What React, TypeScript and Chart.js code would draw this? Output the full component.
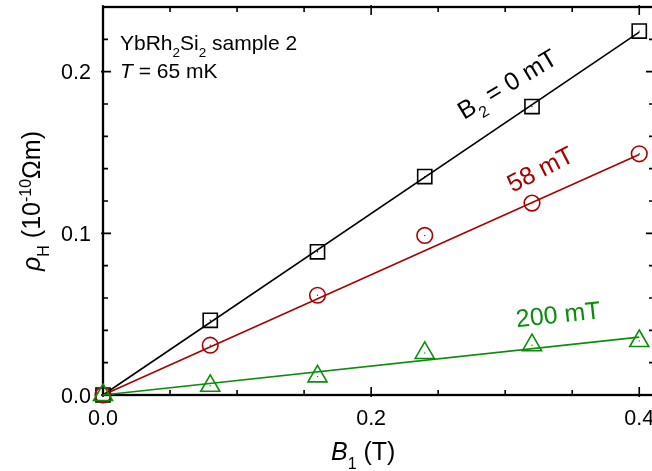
import React, { useEffect, useRef } from 'react';
import { Chart, registerables } from 'chart.js';

Chart.register(...registerables);

// ---------------- data ----------------
const B1 = [0, 0.08, 0.16, 0.24, 0.32, 0.4];
const rhoB0 = [0, 0.0462, 0.0886, 0.1351, 0.1784, 0.2251];
const rhoB58 = [0, 0.0308, 0.0617, 0.0987, 0.1187, 0.1492];
const rhoB200 = [0, 0.0057, 0.0115, 0.026, 0.0308, 0.0334];

const fitB1 = [0, 0.4];
const fitB0 = [0, 0.2245];
const fitB58 = [0, 0.1488];
const fitB200 = [0, 0.0358];

const xTickValues = [0, 0.05, 0.1, 0.15, 0.2, 0.25, 0.3, 0.35, 0.4];
const xMajorValues = [0, 0.2, 0.4];
const xTickLabels = ['0.0', '0.2', '0.4'];
const yTickValues = [0, 0.02, 0.04, 0.06, 0.08, 0.1, 0.12, 0.14, 0.16, 0.18, 0.2, 0.22];
const yMajorValues = [0, 0.1, 0.2];
const yTickLabels = ['0.0', '0.1', '0.2'];

const X_MIN = 0;
const X_MAX = 0.411;
const Y_MIN = 0;
const Y_MAX = 0.24;

// ---------------- styles ----------------
const FONT = "'Liberation Sans', Arial, Helvetica, sans-serif";
const BLACK = '#000000';
const RED = '#a80000';
const GREEN = '#0c8c0c';

type Seg = { t: string; it?: boolean; sub?: boolean; sup?: boolean };

function drawRich(
  ctx: CanvasRenderingContext2D,
  segs: Seg[],
  x: number,
  y: number,
  size: number,
  color: string,
  opts: { angle?: number; align?: 'left' | 'center' | 'right'; vcenter?: boolean } = {}
) {
  const angle = opts.angle || 0;
  const align = opts.align || 'left';
  ctx.save();
  ctx.translate(x, y);
  ctx.rotate((angle * Math.PI) / 180);
  ctx.fillStyle = color;
  ctx.textBaseline = 'alphabetic';
  ctx.textAlign = 'left';
  const fontFor = (s: Seg) =>
    `${s.it ? 'italic ' : ''}${s.sub || s.sup ? size * 0.64 : size}px ${FONT}`;
  let total = 0;
  const widths = segs.map((s) => {
    ctx.font = fontFor(s);
    const w = ctx.measureText(s.t).width;
    total += w;
    return w;
  });
  let cx = align === 'left' ? 0 : align === 'center' ? -total / 2 : -total;
  const base = opts.vcenter ? size * 0.716 * 0.5 : 0;
  segs.forEach((s, i) => {
    ctx.font = fontFor(s);
    const dy = s.sub ? size * 0.34 : s.sup ? -size * 0.36 : 0;
    ctx.fillText(s.t, cx, base + dy);
    cx += widths[i];
  });
  ctx.restore();
}

const near = (v: number, arr: number[]) => arr.findIndex((m) => Math.abs(m - v) < 1e-9);

const framePlugin = {
  id: 'originFrame',
  beforeDatasetsDraw(chart: any) {
    const { ctx, chartArea: a, scales } = chart;
    const xs = scales.x;
    const ys = scales.y;
    ctx.save();
    ctx.strokeStyle = BLACK;
    ctx.lineWidth = 2.3;
    ctx.strokeRect(a.left, a.top, a.right - a.left, a.bottom - a.top);
    ctx.lineWidth = 1.6;
    ctx.beginPath();
    xTickValues.forEach((v) => {
      const px = xs.getPixelForValue(v);
      const major = near(v, xMajorValues) >= 0;
      const inL = major ? 8 : 5;
      const outL = major ? 2 : 0;
      ctx.moveTo(px, a.bottom + outL);
      ctx.lineTo(px, a.bottom - inL);
      ctx.moveTo(px, a.top - outL);
      ctx.lineTo(px, a.top + inL);
    });
    yTickValues.forEach((v) => {
      const py = ys.getPixelForValue(v);
      const major = near(v, yMajorValues) >= 0;
      const inL = major ? 8 : 5;
      const outL = major ? 2 : 0;
      ctx.moveTo(a.left - outL, py);
      ctx.lineTo(a.left + inL, py);
      ctx.moveTo(a.right + outL, py);
      ctx.lineTo(a.right - inL, py);
    });
    ctx.stroke();

    // tick labels
    ctx.fillStyle = BLACK;
    ctx.font = `21.5px ${FONT}`;
    ctx.textBaseline = 'alphabetic';
    ctx.textAlign = 'center';
    xMajorValues.forEach((v, i) => {
      ctx.fillText(xTickLabels[i], xs.getPixelForValue(v), a.bottom + 30);
    });
    ctx.textAlign = 'right';
    yMajorValues.forEach((v, i) => {
      ctx.fillText(yTickLabels[i], a.left - 12, ys.getPixelForValue(v) + 7.7);
    });
    ctx.restore();
  },
  afterDraw(chart: any) {
    const { ctx, chartArea: a, scales } = chart;
    const xs = scales.x;
    const ys = scales.y;

    // axis titles
    drawRich(
      ctx,
      [{ t: 'B', it: true }, { t: '1', sub: true }, { t: ' (T)' }],
      331,
      a.bottom + 65,
      25,
      BLACK
    );
    drawRich(
      ctx,
      [
        { t: 'ρ', it: true },
        { t: 'H', sub: true },
        { t: ' (10' },
        { t: '-10', sup: true },
        { t: 'Ωm)' },
      ],
      40,
      (a.top + a.bottom) / 2,
      25,
      BLACK,
      { angle: -90, align: 'center' }
    );

    // inner description
    drawRich(
      ctx,
      [{ t: 'YbRh' }, { t: '2', sub: true }, { t: 'Si' }, { t: '2', sub: true }, { t: ' sample 2' }],
      a.left + 17,
      a.top + 42.5,
      21,
      BLACK
    );
    drawRich(
      ctx,
      [{ t: 'T', it: true }, { t: ' = 65 mK' }],
      a.left + 17,
      a.top + 70.7,
      21,
      BLACK
    );

    // curve labels (anchored in data coordinates)
    drawRich(
      ctx,
      [{ t: 'B' }, { t: '2', sub: true }, { t: ' = 0 mT' }],
      xs.getPixelForValue(0.3013),
      ys.getPixelForValue(0.1926),
      25,
      BLACK,
      { angle: -31, align: 'center', vcenter: true }
    );
    drawRich(
      ctx,
      [{ t: '58 mT' }],
      xs.getPixelForValue(0.326),
      ys.getPixelForValue(0.14),
      25,
      RED,
      { angle: -27, align: 'center', vcenter: true }
    );
    drawRich(
      ctx,
      [{ t: '200 mT' }],
      xs.getPixelForValue(0.3394),
      ys.getPixelForValue(0.0502),
      25,
      GREEN,
      { angle: -6, align: 'center', vcenter: true }
    );
  },
};

const pts = (xs: number[], ys: number[]) => xs.map((x, i) => ({ x, y: ys[i] }));

export default function App() {
  const ref = useRef<HTMLCanvasElement>(null);

  useEffect(() => {
    const canvas = ref.current;
    if (!canvas) return;
    const markerBase = {
      showLine: false,
      backgroundColor: 'rgba(0,0,0,0)',
      pointBackgroundColor: 'rgba(0,0,0,0)',
      pointBorderWidth: 1.6,
      clip: false as any,
    };
    const dotBase = {
      showLine: false,
      pointStyle: 'circle',
      pointRadius: 0.7,
      pointBorderWidth: 0,
      clip: false as any,
    };
    const lineBase = {
      showLine: true,
      pointRadius: 0,
      borderWidth: 1.6,
      clip: false as any,
    };
    const chart = new Chart(canvas, {
      type: 'scatter',
      data: {
        datasets: [
          { ...markerBase, label: '200 mT', data: pts(B1, rhoB200), pointStyle: 'triangle', pointRadius: 11, borderColor: GREEN, pointBorderColor: GREEN },
          { ...markerBase, label: '58 mT', data: pts(B1, rhoB58), pointStyle: 'circle', pointRadius: 7.8, borderColor: RED, pointBorderColor: RED },
          { ...markerBase, label: '0 mT', data: pts(B1, rhoB0), pointStyle: 'rect', pointRadius: 10, borderColor: BLACK, pointBorderColor: BLACK },
          { ...dotBase, label: 'c200', data: pts(B1, rhoB200), backgroundColor: GREEN, pointBackgroundColor: GREEN, borderColor: GREEN },
          { ...dotBase, label: 'c58', data: pts(B1, rhoB58), backgroundColor: RED, pointBackgroundColor: RED, borderColor: RED },
          { ...dotBase, label: 'c0', data: pts(B1, rhoB0), backgroundColor: BLACK, pointBackgroundColor: BLACK, borderColor: BLACK },
          { ...lineBase, label: 'fit 200', data: pts(fitB1, fitB200), borderColor: GREEN },
          { ...lineBase, label: 'fit 58', data: pts(fitB1, fitB58), borderColor: RED },
          { ...lineBase, label: 'fit 0', data: pts(fitB1, fitB0), borderColor: BLACK },
        ] as any,
      },
      options: {
        animation: false,
        responsive: false,
        devicePixelRatio: 1,
        layout: { autoPadding: false, padding: { left: 103, top: 7, right: 6, bottom: 76 } },
        plugins: { legend: { display: false }, tooltip: { enabled: false } },
        scales: {
          x: { type: 'linear', display: false, min: X_MIN, max: X_MAX },
          y: { type: 'linear', display: false, min: Y_MIN, max: Y_MAX },
        },
      } as any,
      plugins: [framePlugin],
    });
    return () => chart.destroy();
  }, []);

  return (
    <div
      style={{
        position: 'fixed',
        left: 0,
        top: 0,
        width: 652,
        height: 471,
        overflow: 'hidden',
        background: '#ffffff',
      }}
    >
      <div style={{ position: 'absolute', left: 0, top: 0, width: 720, height: 471 }}>
        <canvas ref={ref} width={660} height={471} style={{ display: 'block', width: 660, height: 471 }} />
      </div>
    </div>
  );
}
